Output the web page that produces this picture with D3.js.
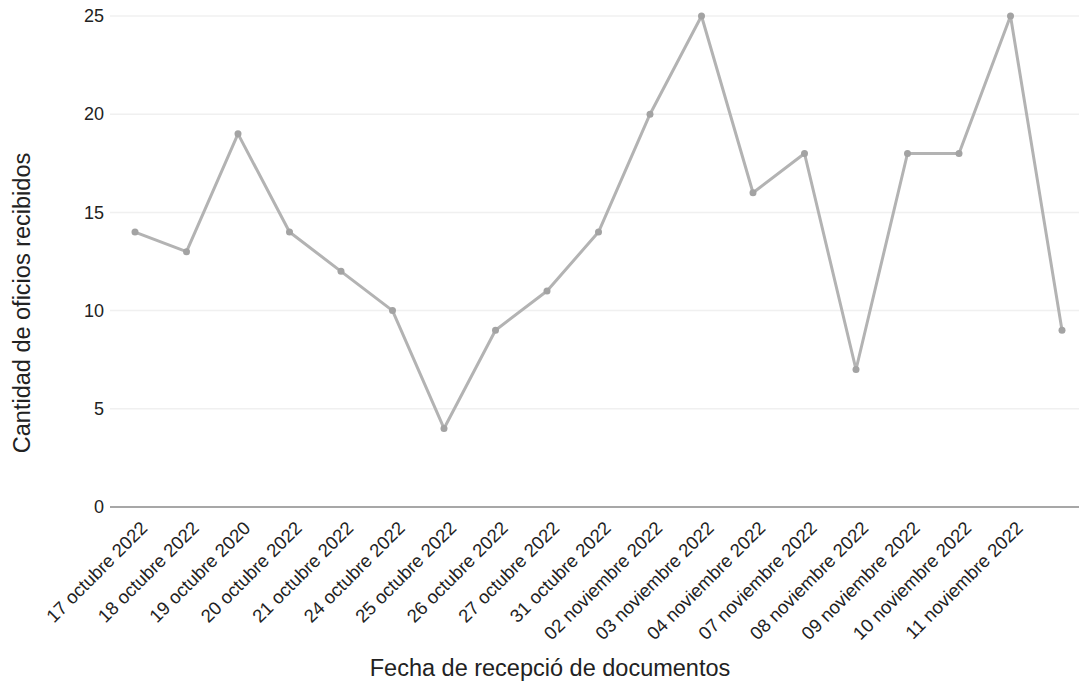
<!DOCTYPE html>
<html>
<head>
<meta charset="utf-8">
<script src="https://cdn.jsdelivr.net/npm/d3@7"></script>
<style>
    body { margin: 0; background: #fff; }
    svg { display: block; }
    text { font-family: "Liberation Sans", Arial, sans-serif; fill: #222; }
</style>
</head>
<body>
<svg id="chart" width="1079" height="688"></svg>
<script>
// fechas (la última muestra no tiene etiqueta en el original)
var categories = ['17 octubre 2022', '18 octubre 2022', '19 octubre 2020', '20 octubre 2022',
    '21 octubre 2022', '24 octubre 2022', '25 octubre 2022', '26 octubre 2022',
    '27 octubre 2022', '31 octubre 2022', '02 noviembre 2022', '03 noviembre 2022',
    '04 noviembre 2022', '07 noviembre 2022', '08 noviembre 2022', '09 noviembre 2022',
    '10 noviembre 2022', '11 noviembre 2022', ''];
var oficios = [14, 13, 19, 14, 12, 10, 4, 9, 11, 14, 20, 25, 16, 18, 7, 18, 18, 25, 9];
var yTicks = [0, 5, 10, 15, 20, 25];

var svg = d3.select('#chart');
var left = 110, right = 1079;

var x = d3.scalePoint()
    .domain(d3.range(oficios.length))
    .range([135, 1062]);

var y = d3.scaleLinear()
    .domain([0, 25])
    .range([507, 16]);

// gridlines
svg.append('g')
    .selectAll('line')
    .data(yTicks.filter(function (d) { return d > 0; }))
    .join('line')
    .attr('x1', left)
    .attr('x2', right)
    .attr('y1', function (d) { return y(d); })
    .attr('y2', function (d) { return y(d); })
    .style('stroke', '#f0f0f0')
    .style('stroke-width', 1.5);

// y axis labels
var yAxis = svg.append('g')
    .attr('transform', 'translate(' + left + ',0)')
    .call(d3.axisLeft(y).tickValues(yTicks).tickSize(0).tickPadding(6));
yAxis.select('.domain').remove();
yAxis.selectAll('text')
    .style('font-size', '18px')
    .style('font-family', '"Liberation Sans", Arial, sans-serif')
    .style('fill', '#222');

// baseline
svg.append('line')
    .attr('x1', left)
    .attr('x2', right)
    .attr('y1', y(0))
    .attr('y2', y(0))
    .style('stroke', '#8a8a8a')
    .style('stroke-width', 1.5);

// x labels
var xAxis = svg.append('g')
    .attr('transform', 'translate(0,' + (y(0) + 14) + ')')
    .call(d3.axisBottom(x).tickSize(0).tickFormat(function (i) { return categories[i]; }));
xAxis.select('.domain').remove();
xAxis.selectAll('text')
    .style('font-size', '18.5px')
    .style('font-family', '"Liberation Sans", Arial, sans-serif')
    .style('fill', '#222')
    .style('text-anchor', 'end')
    .attr('dx', 0)
    .attr('dy', 0)
    .attr('transform', 'translate(11,6) rotate(-45)');

// line
var line = d3.line()
    .x(function (d, i) { return x(i); })
    .y(function (d) { return y(d); });

svg.append('path')
    .datum(oficios)
    .attr('d', line)
    .style('fill', 'none')
    .style('stroke', '#b3b3b3')
    .style('stroke-width', 3)
    .style('stroke-linejoin', 'round');

svg.append('g')
    .selectAll('circle')
    .data(oficios)
    .join('circle')
    .attr('cx', function (d, i) { return x(i); })
    .attr('cy', function (d) { return y(d); })
    .attr('r', 3.5)
    .style('fill', '#a3a3a3');

// axis titles
svg.append('text')
    .attr('x', 550)
    .attr('y', 676)
    .style('text-anchor', 'middle')
    .style('font-size', '23.5px')
    .text('Fecha de recepció de documentos');

svg.append('text')
    .attr('transform', 'translate(30,' + 303 + ') rotate(-90)')
    .style('text-anchor', 'middle')
    .style('font-size', '23.5px')
    .text('Cantidad de oficios recibidos');
</script>
</body>
</html>
